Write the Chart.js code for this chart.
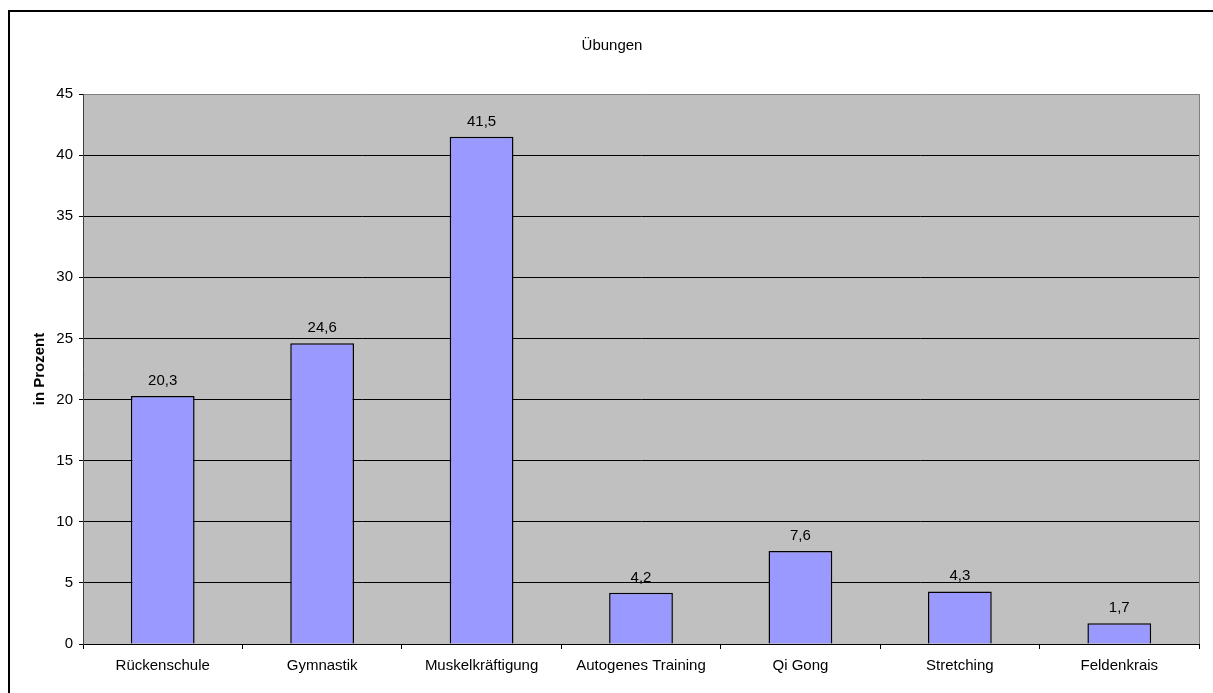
<!DOCTYPE html>
<html>
<head>
<meta charset="utf-8">
<script src="https://cdn.jsdelivr.net/npm/chart.js@4"></script>
<style>
  html, body { margin: 0; padding: 0; background: #fff; }
  canvas { display: block; }
</style>
</head>
<body>
<canvas id="chart" width="1213" height="693"></canvas>
<script>
const categories = ['Rückenschule', 'Gymnastik', 'Muskelkräftigung', 'Autogenes Training', 'Qi Gong', 'Stretching', 'Feldenkrais'];
const values = [20.3, 24.6, 41.5, 4.2, 7.6, 4.3, 1.7];
const yTicks = [0, 5, 10, 15, 20, 25, 30, 35, 40, 45];
const chartTitle = 'Übungen';
const yTitle = 'in Prozent';

const FONT = '"Liberation Sans", Arial, sans-serif';

// frame, grey plot background and title
const framePlugin = {
    id: 'frame',
    beforeDraw(chart) {
        const ctx = chart.ctx;
        const a = chart.chartArea;
        ctx.save();
        ctx.fillStyle = '#fff';
        ctx.fillRect(0, 0, chart.width, chart.height);
        ctx.fillStyle = '#C0C0C0';
        ctx.fillRect(a.left, a.top, a.right - a.left, a.bottom - a.top);
        ctx.strokeStyle = '#000';
        ctx.lineWidth = 2;
        ctx.strokeRect(9, 11, 1207, 688);
        ctx.fillStyle = '#000';
        ctx.font = '15px ' + FONT;
        ctx.textAlign = 'center';
        ctx.textBaseline = 'alphabetic';
        ctx.fillText(chartTitle, 612, 50);
        ctx.restore();
    },
    beforeDatasetsDraw(chart) {
        const ctx = chart.ctx;
        const a = chart.chartArea;
        ctx.save();
        ctx.strokeStyle = '#808080';
        ctx.lineWidth = 1;
        ctx.beginPath();
        ctx.moveTo(Math.round(a.right) + 0.5, a.top);
        ctx.lineTo(Math.round(a.right) + 0.5, a.bottom);
        ctx.stroke();
        ctx.restore();
    },
    afterDatasetsDraw(chart) {
        const ctx = chart.ctx;
        const meta = chart.getDatasetMeta(0);
        ctx.save();
        ctx.fillStyle = '#000';
        ctx.font = '15px ' + FONT;
        ctx.textAlign = 'center';
        ctx.textBaseline = 'alphabetic';
        meta.data.forEach((bar, i) => {
            ctx.fillText(values[i].toFixed(1).replace('.', ','), bar.x, bar.y - 11);
        });
        ctx.restore();
    }
};

new Chart(document.getElementById('chart'), {
    type: 'bar',
    data: {
        labels: categories,
        datasets: [{
            data: values,
            backgroundColor: '#9999FF',
            borderColor: '#000',
            borderWidth: 1.5,
            barPercentage: 1,
            categoryPercentage: 0.4
        }]
    },
    options: {
        responsive: false,
        devicePixelRatio: 1,
        animation: false,
        layout: { padding: { top: 94, right: 14, bottom: 0, left: 0 } },
        plugins: {
            legend: { display: false },
            tooltip: { enabled: false },
            title: { display: false }
        },
        scales: {
            x: {
                afterFit: s => { s.height = 49; },
                grid: {
                    drawOnChartArea: false,
                    drawTicks: true,
                    tickLength: 5,
                    offset: true,
                    color: '#000'
                },
                border: { color: '#000' },
                ticks: {
                    color: '#000',
                    padding: 8,
                    maxRotation: 0,
                    font: { family: FONT, size: 15 }
                }
            },
            y: {
                min: 0,
                max: 45,
                afterFit: s => { s.width = 83; },
                afterBuildTicks: s => { s.ticks = yTicks.map(v => ({ value: v })); },
                grid: {
                    color: c => (c.tick && c.tick.value === 45 ? '#808080' : '#000'),
                    tickColor: '#000',
                    tickLength: 4
                },
                border: { color: '#404040' },
                ticks: {
                    color: '#000',
                    padding: 6,
                    font: { family: FONT, size: 15 }
                },
                title: {
                    display: true,
                    text: yTitle,
                    color: '#000',
                    padding: { top: 31, bottom: 0 },
                    font: { family: FONT, size: 15, weight: 'bold' }
                }
            }
        }
    },
    plugins: [framePlugin]
});
</script>
</body>
</html>
